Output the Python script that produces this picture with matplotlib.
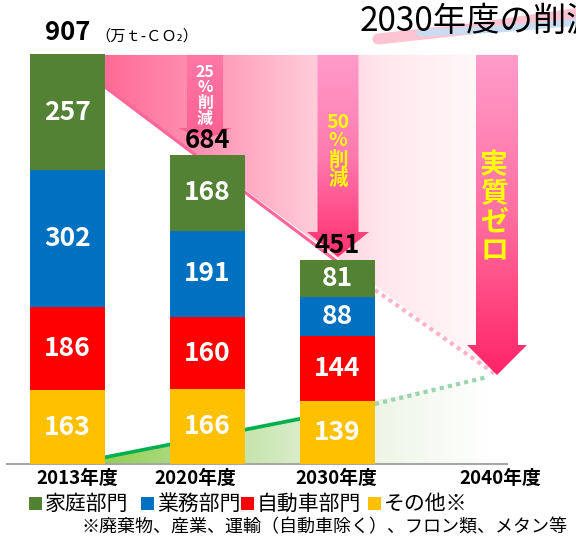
"""
CO2 emission reduction chart (2013 -> 2040)
"""
import numpy as np
import matplotlib
matplotlib.use('Agg')
import matplotlib.pyplot as plt
from matplotlib.patches import Polygon, Rectangle
from matplotlib.colors import LinearSegmentedColormap

JP = ['Noto Sans CJK JP', 'DejaVu Sans']

# data (万t-CO2)
years = ['2013年度', '2020年度', '2030年度', '2040年度']
other = [163, 166, 139]
car = [186, 160, 144]
business = [302, 191, 88]
household = [257, 168, 81]
totals = [907, 684, 451]

sectors = ['家庭部門', '業務部門', '自動車部門', 'その他※']
colors = {'家庭部門': '#548235', '業務部門': '#0070C0',
          '自動車部門': '#FF0000', 'その他※': '#FFC000'}
note = '※廃棄物、産業、運輸（自動車除く）、フロン類、メタン等'

# trend lines (emissions / absorption) toward net zero in 2040
emis_x, emis_y = [0.268, 1.929], [836, 448]
emis_dot_x, emis_dot_y = [2.196, 3.068], [386, 197]
sink_x, sink_y = [0.268, 1.661], [15, 100]
sink_dot_x, sink_dot_y = [2.196, 3.0], [133, 193]

# layout: pixel <-> data
X0, UNIT, BASE, PXU = 67.5, 140.0, 464.0, 0.451
W, H = 576, 540


def dx(px):
    return (px - X0) / UNIT


def dy(py):
    return (BASE - py) / PXU


bar_x = [0, 1, 1.929]
label_x = [dx(77.5), dx(195), dx(336.5), dx(500)]
bar_w = 75 / UNIT

fig = plt.figure(figsize=(W / 100, H / 100), dpi=100)
ax = fig.add_axes([0, 0, 1, 1])
ax.axis('off')
XL = (dx(0), dx(W))
YL = (dy(H), dy(0))


def grad_poly(verts, stops, vertical=False, z=1):
    poly = Polygon(verts, closed=True, facecolor='none', edgecolor='none')
    ax.add_patch(poly)
    xs = [v[0] for v in verts]
    ys = [v[1] for v in verts]
    cmap = LinearSegmentedColormap.from_list('g', stops)
    g = np.linspace(0, 1, 256)
    arr = g[:, None] if vertical else g[None, :]
    # vertical: stop 0 at top
    im = ax.imshow(arr, cmap=cmap, aspect='auto', zorder=z,
                   extent=[min(xs), max(xs), min(ys), max(ys)],
                   origin='upper', interpolation='bilinear')
    im.set_clip_path(poly)
    return im


# pink wedge
wedge = [(dx(105), totals[0]), (dx(476), totals[0]),
         (emis_dot_x[1], emis_dot_y[1]), (emis_x[0], emis_y[0])]
grad_poly(wedge, [(0, '#FF6B95'), (0.25, '#FF93B3'), (0.5, '#FFC6D5'),
                  (0.72, '#FFE8EE'), (1, '#FFFBFC')], z=1)

# green absorption area
garea = [(sink_x[0], 0), (sink_x[0], sink_y[0]),
         (sink_dot_x[1], sink_dot_y[1]), (sink_dot_x[1], 0)]
grad_poly(garea, [(0, '#92D050'), (0.25, '#B5DD92'), (0.5, '#D8ECC8'),
                  (0.75, '#F0F7EA'), (1, '#FFFFFF')], z=1)

ax.plot(emis_x, emis_y, color='#FF6699', lw=2.3, zorder=2)
ax.plot(emis_dot_x, emis_dot_y, color='#FFB3CA', lw=3, ls=(0, (1, 1)),
        dash_capstyle='butt', zorder=2)
ax.plot(sink_x, sink_y, color='#00B050', lw=2.6, zorder=2)
ax.plot(sink_dot_x, sink_dot_y, color='#9CD3B1', lw=3, ls=(0, (1, 1)),
        dash_capstyle='butt', zorder=2)


def arrow(cx, sw, hw, head_top, tip, stops, z=3):
    cx, sw, hw = dx(cx), sw / UNIT, hw / UNIT
    top = totals[0]
    verts = [(cx - sw, top), (cx + sw, top), (cx + sw, dy(head_top)),
             (cx + hw, dy(head_top)), (cx, dy(tip)),
             (cx - hw, dy(head_top)), (cx - sw, dy(head_top))]
    grad_poly(verts, stops, vertical=True, z=z)


arrow(205, 18, 27, 128, 140, [(0, '#FF78A6'), (1, '#FF5F92')])
arrow(338, 20.5, 31, 232, 257, [(0, '#FF9CCB'), (0.5, '#FF7AAE'), (1, '#FF2E70')])
arrow(497, 21, 30, 345, 375, [(0, '#FF9CCB'), (0.5, '#FF6FA0'), (1, '#FF2468')])


def vtext(chars, cx, y0, pitch, size, color):
    for i, ch in enumerate(chars):
        ax.text(dx(cx), dy(y0 + i * pitch), ch, ha='center', va='center',
                fontsize=size, color=color, fontweight='bold', family=JP, zorder=6)


vtext(['25', '%', '削', '減'], 205, 72, 15.5, 11.5, 'white')
vtext(['50', '%', '削', '減'], 338, 122, 19, 14, '#FFFF00')
vtext(['実', '質', 'ゼ', 'ロ'], 494, 165, 29, 20, '#FFFF00')

# stacked bars
series = [(other, 'その他※'), (car, '自動車部門'),
          (business, '業務部門'), (household, '家庭部門')]
bottom = np.zeros(3)
for vals, name in series:
    vals = np.array(vals)
    ax.bar(bar_x, vals, width=bar_w, bottom=bottom, color=colors[name],
           zorder=5, linewidth=0)
    for x, b, v in zip(bar_x, bottom, vals):
        ax.text(x, b + v / 2, str(v), ha='center', va='center', color='white',
                fontsize=19, fontweight='bold', family=JP, zorder=6)
    bottom = bottom + vals

tot_off = [20, 3, 3]
for x, t, o in zip(bar_x, totals, tot_off):
    ax.text(x, t + o, str(t), ha='center', va='bottom', color='black',
            fontsize=18.5, fontweight='bold', family=JP, zorder=6)
ax.text(dx(95), totals[0] + 24, '（万ｔ-ＣＯ₂）', ha='left', va='bottom',
        fontsize=11, family=JP, zorder=6)

# baseline and year labels
ax.plot([dx(7), dx(507)], [0, 0], color='#A6A6A6', lw=1.5, zorder=4)
for x, lab in zip(label_x, years):
    ax.text(x, dy(478.5), lab, ha='center', va='center', fontsize=13.5,
            fontweight='bold', family=JP)

# legend row
leg_sq = [29, 141, 241, 368]
for px, name in zip(leg_sq, sectors):
    ax.add_patch(Rectangle((dx(px), dy(510)), 13 / UNIT, 13 / PXU,
                           color=colors[name], lw=0, clip_on=False))
    ax.text(dx(px + 16), dy(503.5), name, ha='left', va='center',
            fontsize=15, family=JP)
ax.text(dx(81), dy(527.5), note, ha='left', va='center', fontsize=13, family=JP)

# title with brush strokes
ax.plot([dx(378), dx(470), dx(580)], [dy(39), dy(29), dy(13)], color='#FFC4D4',
        lw=8, solid_capstyle='round', zorder=1)
ax.plot([dx(420), dx(500), dx(580)], [dy(33), dy(29), dy(22)], color='#C9DDF2',
        lw=5, solid_capstyle='round', zorder=1)
ax.text(dx(360), dy(21), '2030年度の削減目標', ha='left', va='center',
        fontsize=24, family=JP, zorder=6)

ax.set_xlim(*XL)
ax.set_ylim(*YL)
fig.savefig('out.png', dpi=100, facecolor='white')
